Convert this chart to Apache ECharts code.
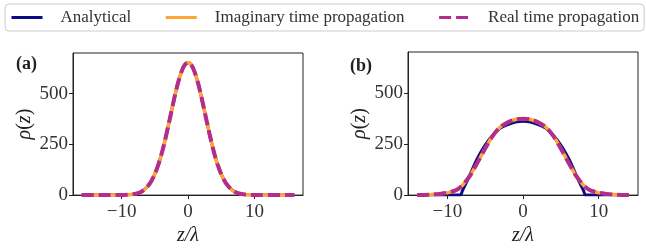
<!DOCTYPE html>
<html><head><meta charset="utf-8">
<script src="https://cdn.jsdelivr.net/npm/echarts@6/dist/echarts.min.js"></script>
<style>html,body{margin:0;padding:0;background:#fff}#c{width:646px;height:251px}</style>
</head><body><div id="c"></div>
<script>
// ---- data ----
const legendNames = ['Analytical', 'Imaginary time propagation', 'Real time propagation'];
const panelLabels = ['(a)', '(b)'];
const xTicks = [-10, 0, 10];
const yTicks = [0, 250, 500];

// panel (a): all three curves coincide
const zA = [-16,-15,-14,-13,-12,-11,-10,-9.5,-9,-8.5,-8,-7.5,-7,-6.5,-6,-5.5,-5,-4.5,-4,-3.5,-3,-2.5,-2,-1.5,-1,-0.5,0,0.5,1,1.5,2,2.5,3,3.5,4,4.5,5,5.5,6,6.5,7,7.5,8,8.5,9,9.5,10,11,12,13,14,15,16];
const analyticalA = [0,0,0,0,0,0,0.4,1,2,3,6,10,17,29,46,70,103,146,200,264,336,411,486,553,606,641,653,641,606,553,486,411,336,264,200,146,103,70,46,29,17,10,6,3,2,1,0.4,0,0,0,0,0,0];
const imaginaryA  = [0,0,0,0,0,0,0.4,1,2,3,6,10,17,29,46,70,103,146,200,264,336,411,486,553,606,641,653,641,606,553,486,411,336,264,200,146,103,70,46,29,17,10,6,3,2,1,0.4,0,0,0,0,0,0];
const realA       = [0,0,0,0,0,0,0.4,1,2,3,6,10,17,29,46,70,103,146,200,264,336,411,486,553,606,641,653,641,606,553,486,411,336,264,200,146,103,70,46,29,17,10,6,3,2,1,0.4,0,0,0,0,0,0];

// panel (b)
const zBAnalytical = [-14,-13,-12,-11,-10,-9,-8.25,-8,-7.5,-7,-6.5,-6,-5,-4,-3,-2,-1,0,1,2,3,4,5,6,6.5,7,7.5,8,8.25,9,10,11,12,13,14];
const analyticalB  = [0,0,0,0,0,0,0,22,60,100,143,182,245,293,328,345,357,361,357,345,328,293,245,182,143,100,60,22,0,0,0,0,0,0,0];
const zBNumeric    = [-14,-13,-12,-11,-10,-9,-8.5,-8,-7.5,-7,-6.5,-6,-5,-4,-3,-2,-1,0,1,2,3,4,5,6,6.5,7,7.5,8,8.5,9,10,11,12,13,14];
const imaginaryB   = [0,1,3,6,11,22,32,48,70,95,127,160,228,290,333,356,370,374,370,356,333,290,228,160,127,95,70,48,32,22,11,6,3,1,0];
const realB        = [0,1,3,6,11,22,32,48,70,95,127,160,228,290,333,356,370,374,370,356,333,290,228,160,127,95,70,48,32,22,11,6,3,1,0];

// ---- chart ----
const FONT = "'Liberation Serif', 'DejaVu Serif', serif";
const INK = '#222';
const COLORS = ['#0b0b85', '#ffa531', '#b32e8c'];
const pair = (xs, ys) => xs.map((x, i) => [x, ys[i]]);
const minus = v => String(v).replace('-', '\u2212');

function mkX(idx, min, max) {
  return {
    type: 'value', gridIndex: idx, min: min, max: max,
    name: 'z/λ', nameLocation: 'middle', nameGap: 26,
    nameTextStyle: { fontFamily: FONT, fontSize: 20, fontStyle: 'italic', color: INK },
    axisLine: { show: true, onZero: false, lineStyle: { color: INK, width: 1 } },
    axisTick: { show: true, inside: false, length: 4, customValues: xTicks, lineStyle: { color: INK } },
    axisLabel: { customValues: xTicks, formatter: minus, fontFamily: FONT, fontSize: 19, color: '#333', margin: 7 },
    splitLine: { show: false }
  };
}
function mkY(idx) {
  return {
    type: 'value', gridIndex: idx, min: 0, max: 700,
    name: '{i|ρ}({i|z})', nameLocation: 'middle', nameGap: 38, nameRotate: 90,
    nameTextStyle: { fontFamily: FONT, fontSize: 20, color: INK, rich: { i: { fontFamily: FONT, fontSize: 20, fontStyle: 'italic', color: INK } } },
    axisLine: { show: true, onZero: false, lineStyle: { color: INK, width: 1 } },
    axisTick: { show: true, inside: false, length: 4, customValues: yTicks, lineStyle: { color: INK } },
    axisLabel: { customValues: yTicks, fontFamily: FONT, fontSize: 19, color: '#333', margin: 5 },
    splitLine: { show: false }
  };
}
function mkSeries(idx, zs, a, zn, im, re) {
  return [
    { type: 'line', name: legendNames[0], xAxisIndex: idx, yAxisIndex: idx, data: pair(zs, a), symbol: 'none', smooth: 0.25, z: 2,
      lineStyle: { color: COLORS[0], width: 3 }, itemStyle: { color: COLORS[0] } },
    { type: 'line', name: legendNames[1], xAxisIndex: idx, yAxisIndex: idx, data: pair(zn, im), symbol: 'none', smooth: 0.25, z: 3,
      lineStyle: { color: COLORS[1], width: 3.5 }, itemStyle: { color: COLORS[1] } },
    { type: 'line', name: legendNames[2], xAxisIndex: idx, yAxisIndex: idx, data: pair(zn, re), symbol: 'none', smooth: 0.25, z: 4,
      lineStyle: { color: COLORS[2], width: 4, type: [12, 5] }, itemStyle: { color: COLORS[2] } }
  ];
}

const chart = echarts.init(document.getElementById('c'), null, { renderer: 'canvas' });
chart.setOption({
  animation: false,
  backgroundColor: '#fff',
  title: [
    { text: panelLabels[0], left: 11, top: 50, textStyle: { fontFamily: FONT, fontSize: 18, fontWeight: 'bold', color: INK } },
    { text: panelLabels[1], left: 345, top: 52, textStyle: { fontFamily: FONT, fontSize: 18, fontWeight: 'bold', color: INK } }
  ],
  legend: {
    data: legendNames, left: 5, top: 4, width: 700, padding: [5, 5, 5, 5],
    itemWidth: 31, itemHeight: 14, itemGap: 33,
    itemStyle: { color: 'transparent', borderWidth: 0, opacity: 0 },
    lineStyle: { width: 3 },
    borderColor: '#cccccc', borderWidth: 1, borderRadius: 4,
    textStyle: { fontFamily: FONT, fontSize: 17, color: '#333', padding: [0, 0, 0, 13] }
  },
  grid: [
    { left: 73, top: 53, width: 230, height: 150, show: true, borderColor: INK, borderWidth: 1, backgroundColor: 'transparent' },
    { left: 408, top: 52, width: 230, height: 150, show: true, borderColor: INK, borderWidth: 1, backgroundColor: 'transparent' }
  ],
  xAxis: [mkX(0, -17.3, 17.3), mkX(1, -15.2, 15.2)],
  yAxis: [mkY(0), mkY(1)],
  series: [].concat(
    mkSeries(0, zA, analyticalA, zA, imaginaryA, realA),
    mkSeries(1, zBAnalytical, analyticalB, zBNumeric, imaginaryB, realB)
  )
});
</script>
</body></html>
